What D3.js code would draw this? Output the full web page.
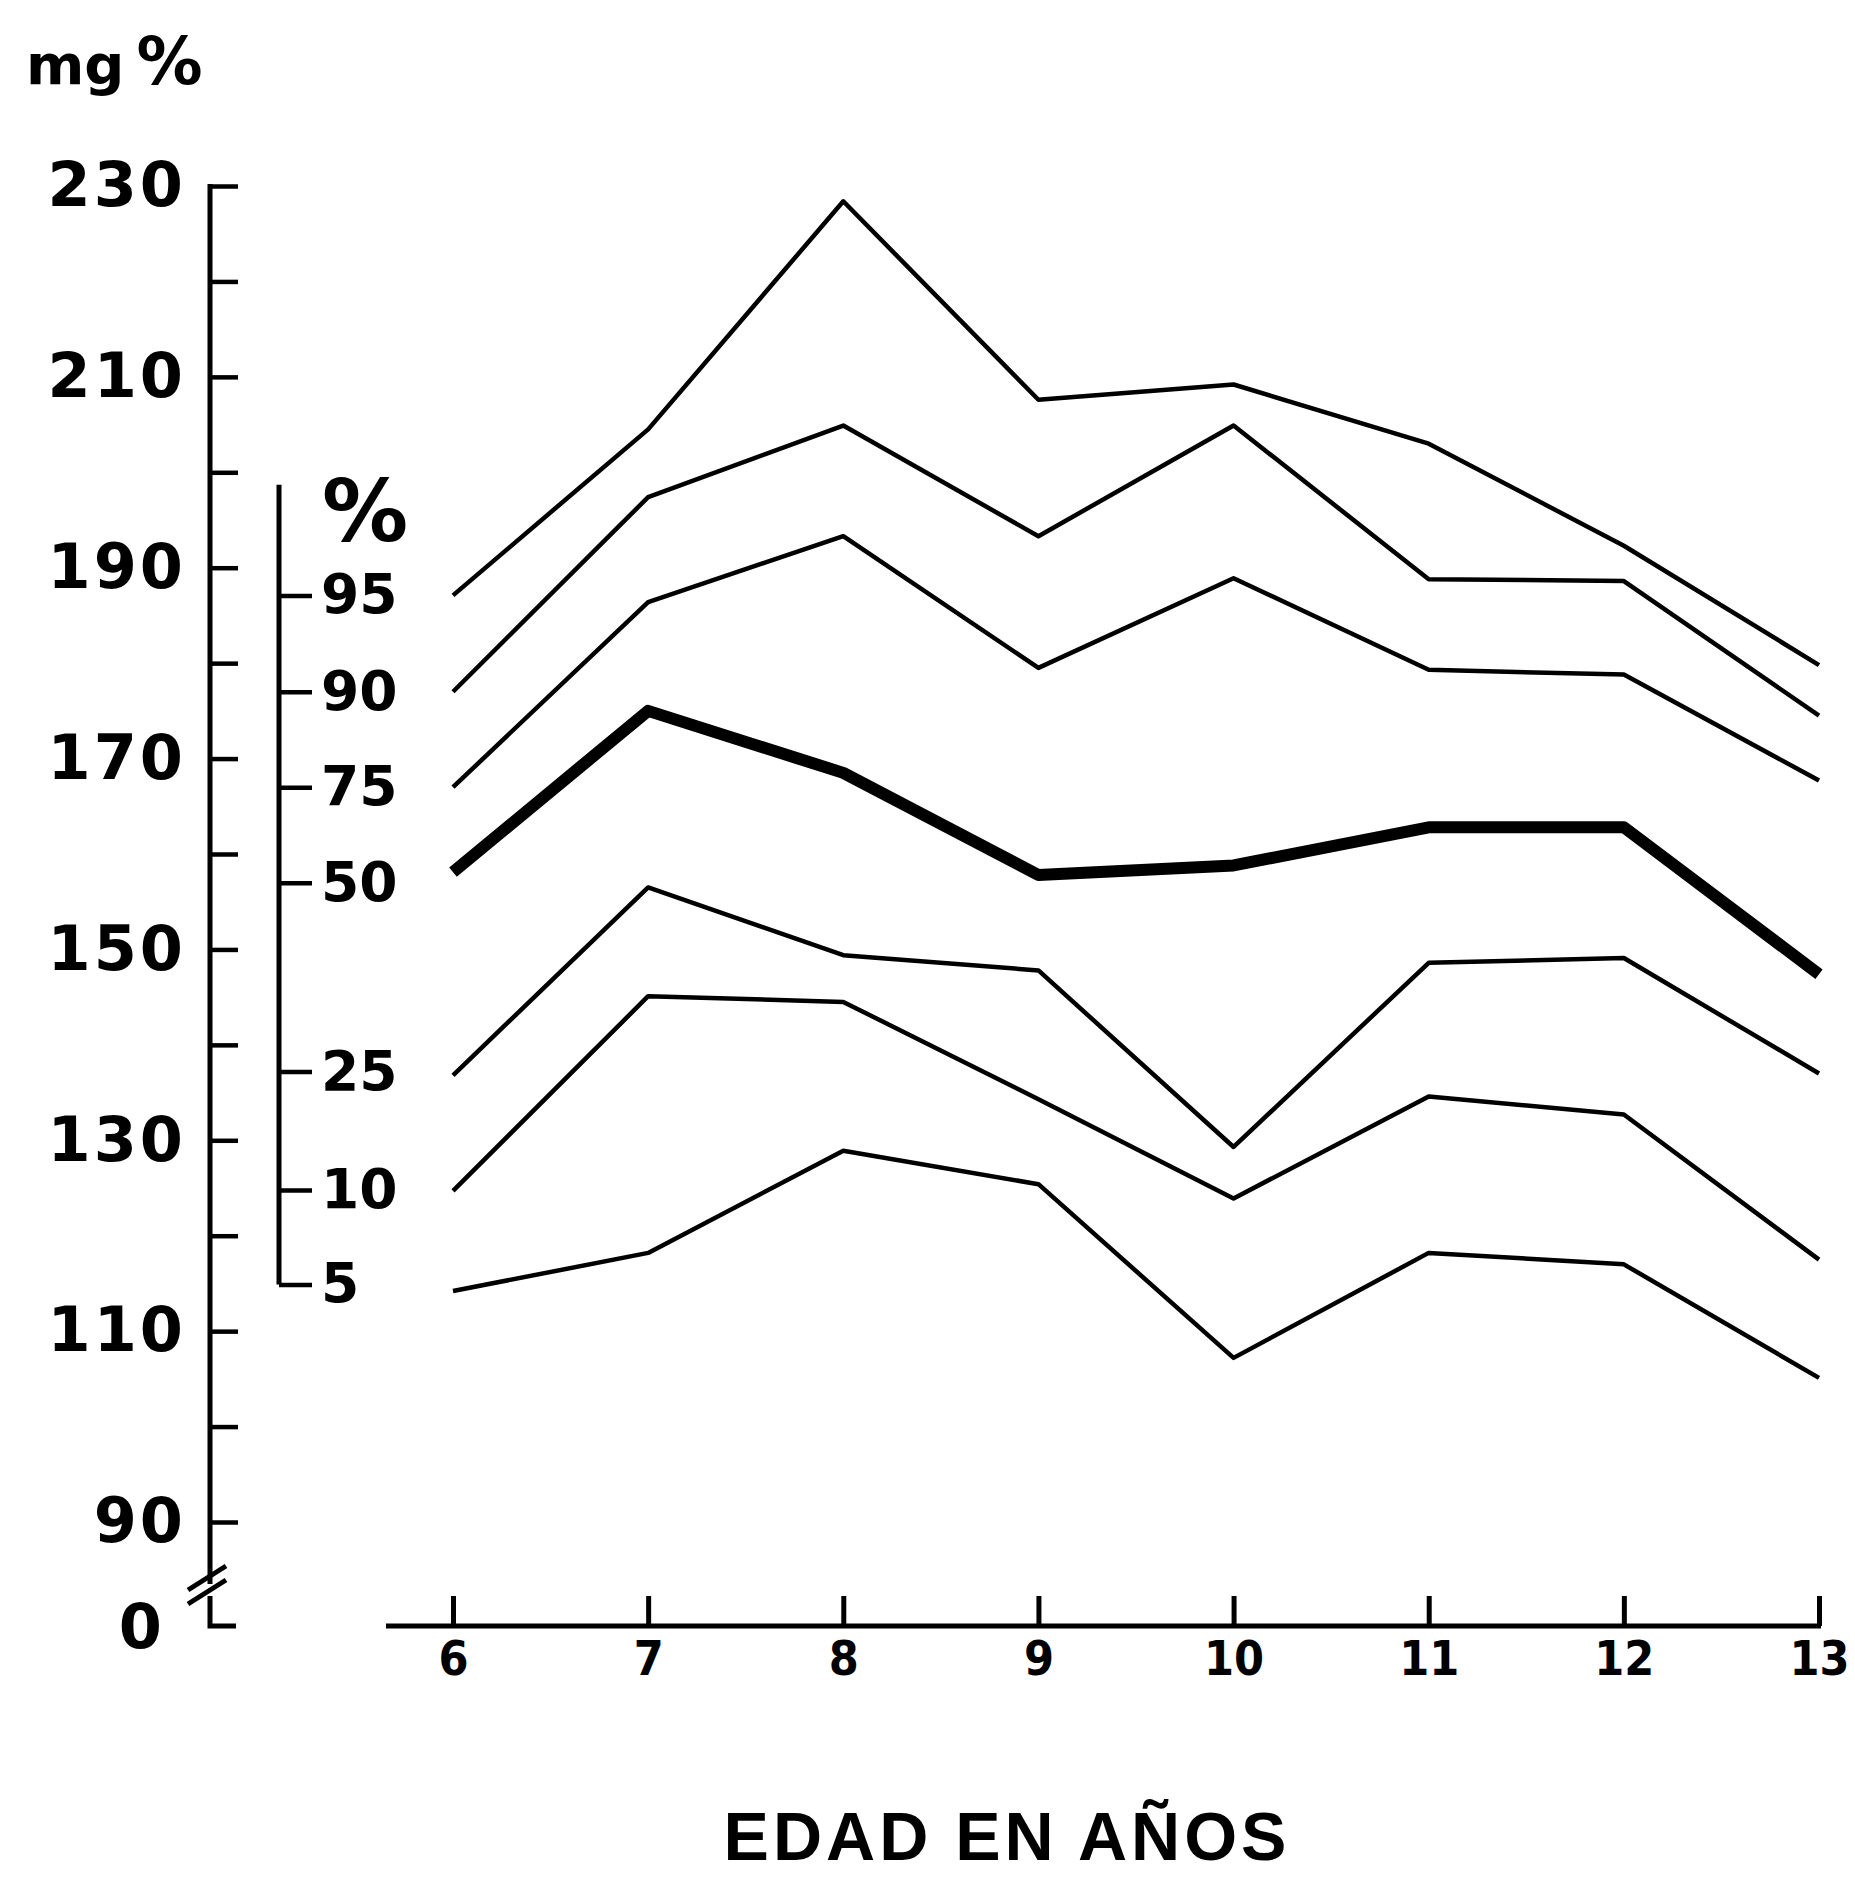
<!DOCTYPE html>
<html lang="es">
    <head>
        <meta charset="utf-8">
        <title>Percentiles mg % por edad</title>
        <script type="text/javascript" src="https://cdn.jsdelivr.net/npm/d3@7/dist/d3.min.js"></script>
        <style>
            body { margin: 0; background: #fff; }
            svg { display: block; }
            .lab { font-family: "DejaVu Sans", sans-serif; font-weight: bold; fill: #000; }
        </style>
    </head>

    <body>
        <script type="text/javascript">

            // ages on the x axis
            var ages = [6, 7, 8, 9, 10, 11, 12, 13];

            // percentile curves, mg %
            var p95 = [187.1, 204.5, 228.4, 207.6, 209.2, 203.0, 192.3, 179.8];
            var p90 = [177.0, 197.4, 204.9, 193.3, 204.9, 188.8, 188.6, 174.5];
            var p75 = [167.0, 186.4, 193.3, 179.5, 188.9, 179.3, 178.8, 167.7];
            var p50 = [158.1, 175.0, 168.5, 157.8, 158.8, 162.8, 162.8, 147.4];
            var p25 = [136.8, 156.5, 149.4, 147.8, 129.3, 148.6, 149.1, 137.0];
            var p10 = [124.7, 145.1, 144.5, 134.3, 123.9, 134.6, 132.7, 117.5];
            var p05 = [114.2, 118.2, 128.9, 125.4, 107.2, 118.2, 117.0, 105.1];

            // y axis (mg %) labels and minor ticks
            var mg_labels = [230, 210, 190, 170, 150, 130, 110, 90];
            var mg_ticks = [230, 220, 210, 200, 190, 180, 170, 160, 150, 140, 130, 120, 110, 100, 90];

            // percentile scale: label and the mg value it sits at
            var pct_labels = ["95", "90", "75", "50", "25", "10", "5"];
            var pct_at = [187.1, 177.0, 167.0, 157.0, 137.2, 124.8, 114.9];
            var pct_top = 198.7;

            var width = 1855, height = 1879;

            var svg = d3.select("body")
                .append("svg")
                .attr("width", width)
                .attr("height", height);

            var x = d3.scaleLinear().domain([6, 13]).range([453, 1819]);
            var y = d3.scaleLinear().domain([90, 230]).range([1522, 186]);

            var ax_x = 210;       // left axis position
            var base_y = 1626;    // x axis position
            var pct_x = 279;      // percentile axis position
            var axis_w = 5;

            // ---- left mg axis: ticks ----
            var g_left = svg.append("g")
                .attr("transform", "translate(" + ax_x + ",0)")
                .call(d3.axisRight(y).tickValues(mg_ticks).tickSize(28).tickSizeOuter(0).tickFormat(""));
            g_left.select(".domain").remove();
            g_left.selectAll("line").attr("stroke", "#000").attr("stroke-width", 4.5);

            // axis line with the break down to zero
            svg.append("path")
                .attr("d", "M" + ax_x + "," + (y(230) - 2) + "V1584")
                .attr("fill", "none").attr("stroke", "#000").attr("stroke-width", axis_w);
            svg.append("path")
                .attr("d", "M" + ax_x + ",1596V" + base_y + "H" + (ax_x + 26))
                .attr("fill", "none").attr("stroke", "#000").attr("stroke-width", axis_w);
            svg.append("path")
                .attr("d", "M188,1590L226,1566M188,1604L226,1580")
                .attr("fill", "none").attr("stroke", "#000").attr("stroke-width", axis_w);

            // left labels
            var g_lab = svg.append("g")
                .attr("transform", "translate(186,0)")
                .call(d3.axisLeft(y).tickValues(mg_labels).tickSize(0).tickPadding(0));
            g_lab.select(".domain").remove();
            g_lab.selectAll("text")
                .attr("class", "lab")
                .style("font-size", "62px")
                .style("letter-spacing", "3px");

            svg.append("text")
                .attr("class", "lab")
                .attr("x", 162).attr("y", base_y + 22)
                .attr("text-anchor", "end")
                .style("font-size", "62px")
                .text("0");

            // unit
            var unit = svg.append("text")
                .attr("class", "lab")
                .attr("x", 26).attr("y", 84);
            unit.append("tspan").style("font-size", "56px").text("mg");
            unit.append("tspan").attr("dx", 12).style("font-size", "66px").text("%");

            // ---- percentile axis ----
            svg.append("path")
                .attr("d", "M" + pct_x + "," + y(pct_top) + "V" + y(pct_at[6]))
                .attr("fill", "none").attr("stroke", "#000").attr("stroke-width", axis_w);

            var g_pct = svg.append("g")
                .attr("transform", "translate(" + pct_x + ",0)")
                .call(d3.axisRight(y).tickValues(pct_at).tickSize(33).tickPadding(9)
                    .tickFormat(function(d, i) { return pct_labels[i]; }));
            g_pct.select(".domain").remove();
            g_pct.selectAll("line").attr("stroke", "#000").attr("stroke-width", 4.5);
            g_pct.selectAll("text")
                .attr("class", "lab")
                .attr("text-anchor", "start")
                .style("font-size", "55px");

            svg.append("text")
                .attr("class", "lab")
                .attr("x", 322).attr("y", y(pct_top) + 56)
                .style("font-size", "86px")
                .text("%");

            // ---- x axis ----
            svg.append("path")
                .attr("d", "M386," + base_y + "H" + (x(13) + 2))
                .attr("fill", "none").attr("stroke", "#000").attr("stroke-width", axis_w);

            var g_x = svg.append("g")
                .attr("transform", "translate(0," + base_y + ")")
                .call(d3.axisBottom(x).tickValues(ages).tickSize(-30).tickSizeOuter(0).tickPadding(15)
                    .tickFormat(d3.format("d")));
            g_x.select(".domain").remove();
            g_x.selectAll("line").attr("stroke", "#000").attr("stroke-width", axis_w);
            g_x.selectAll("text")
                .attr("class", "lab")
                .style("font-size", "48px")
                .style("font-stretch", "condensed");

            svg.append("text")
                .attr("x", 1007).attr("y", 1860)
                .attr("text-anchor", "middle")
                .style("font-family", "'Liberation Sans', Arial, sans-serif")
                .style("font-weight", "bold")
                .style("font-size", "68px")
                .style("letter-spacing", "4px")
                .text("EDAD EN AÑOS");

            // ---- percentile curves ----
            var line = d3.line()
                .x(function(d, i) { return x(ages[i]); })
                .y(function(d) { return y(d); });

            var curves = [p95, p90, p75, p50, p25, p10, p05];

            svg.append("g")
                .selectAll("path")
                .data(curves)
                .enter()
                .append("path")
                .attr("d", line)
                .attr("fill", "none")
                .attr("stroke", "#000")
                .attr("stroke-linejoin", "round")
                .attr("stroke-width", function(d) { return d === p50 ? 12 : 4.5; });

        </script>
    </body>
</html>
